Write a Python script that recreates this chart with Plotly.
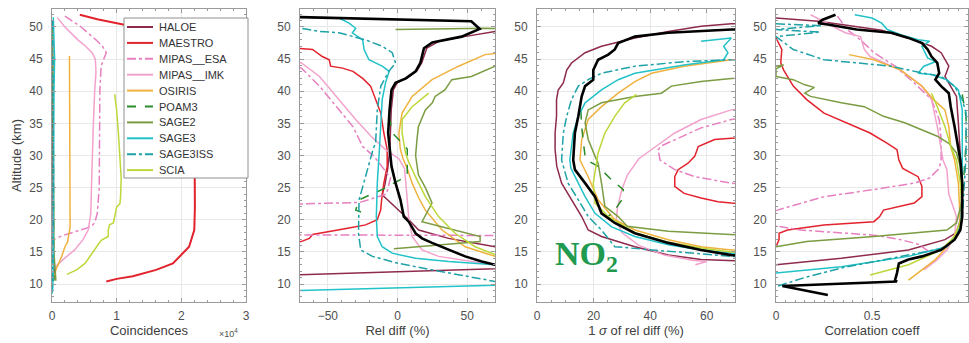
import plotly.graph_objects as go

# ---------------- series meta ----------------
SERIES = ["HALOE", "MAESTRO", "MIPAS__ESA", "MIPAS__IMK", "OSIRIS",
          "POAM3", "SAGE2", "SAGE3", "SAGE3ISS", "SCIA"]
COLORS = {"HALOE": "#8e2a4c", "MAESTRO": "#e2222c", "MIPAS__ESA": "#e680c0",
          "MIPAS__IMK": "#f2a2cc", "OSIRIS": "#efb23e", "POAM3": "#2b8c2b",
          "SAGE2": "#7b9c42", "SAGE3": "#22c2c8", "SAGE3ISS": "#1ea2a8",
          "SCIA": "#bcd83a"}
DASHES = {"MIPAS__ESA": "dashdot", "POAM3": "dash", "SAGE3ISS": "dashdot"}

ALT_TICKS = [10, 15, 20, 25, 30, 35, 40, 45, 50]

# ---------------- panel 1: coincidences (units of 10^4) ----------------
co_HALOE = [(0.005, 50), (0.01, 40), (0.01, 25), (0.02, 15), (0.04, 12), (0.02, 10.5)]
co_MAESTRO = [(0.43, 51.9), (0.7, 51.2), (1.1, 50.4), (1.5, 49.5), (1.9, 47.5), (2.15, 45),
              (2.2, 40), (2.21, 30), (2.21, 27), (2.21, 22), (2.2, 18.4), (2.12, 15.8),
              (1.87, 13.2), (1.61, 12.2), (1.25, 11.2), (1.0, 10.8), (0.84, 10.4)]
co_MIPAS_ESA = [(0.2, 51.7), (0.45, 50), (0.68, 48), (0.78, 47), (0.84, 46), (0.8, 45),
                (0.76, 44), (0.74, 40), (0.74, 30), (0.73, 25), (0.7, 21), (0.66, 19.5),
                (0.6, 18.9), (0.4, 18.3), (0.15, 17.5), (0.05, 17)]
co_MIPAS_IMK = [(0.08, 51.5), (0.2, 50), (0.4, 48), (0.52, 47), (0.62, 46), (0.67, 45),
                (0.68, 43), (0.66, 40), (0.64, 35), (0.63, 30), (0.61, 25), (0.6, 21),
                (0.56, 18.4), (0.48, 16.9), (0.35, 15.3), (0.17, 13.8), (0.08, 13), (0.03, 12.5)]
co_OSIRIS = [(0.27, 45.5), (0.27, 40), (0.27, 30), (0.27, 20), (0.28, 18.9), (0.24, 16.5),
             (0.2, 15.8), (0.15, 14.3), (0.1, 13.2), (0.06, 12.2), (0.03, 11)]
co_POAM3 = [(0.01, 45), (0.02, 40), (0.02, 30), (0.02, 20), (0.02, 13), (0.03, 10.5)]
co_SAGE2 = [(0.01, 50), (0.015, 40), (0.02, 25), (0.03, 15), (0.05, 12), (0.06, 10.5)]
co_SAGE3 = [(0.02, 51.5), (0.04, 45), (0.03, 40), (0.03, 30), (0.03, 20), (0.03, 15),
            (0.02, 12), (0.01, 9), (0.0, 8.5)]
co_SAGE3ISS = [(0.01, 51), (0.02, 40), (0.02, 30), (0.02, 20), (0.01, 10), (0.005, 9)]
co_SCIA = [(0.97, 39.5), (1.0, 37), (1.03, 33), (1.05, 30), (1.07, 26.5), (1.06, 23.5),
           (1.05, 22.5), (1.0, 22), (0.97, 20.5), (0.95, 19.5), (0.89, 19.2), (0.87, 18.4),
           (0.87, 17.4), (0.76, 16.8), (0.69, 15.8), (0.64, 15), (0.58, 14.2), (0.51, 13.2),
           (0.38, 12.2), (0.23, 11.5)]

# ---------------- panel 2: relative difference (%) ----------------
rd_HALOE = [(120, 49.7), (70, 49.3), (48, 48.5), (30, 47.8), (21, 46.7), (17.5, 44.5),
            (14, 43.2), (7, 42.1), (0, 41.4), (-3, 40.2), (-4.5, 37.1), (-5, 34), (-5.5, 31),
            (-7, 28), (-9, 25.5), (-11, 23.9), (1, 21.5), (8.1, 20), (15.2, 18.4),
            (36.7, 17.1), (55, 16.4), (70, 15.8), (150, 12.9), (-150, 10.9)]
rd_MAESTRO = [(-120, 47.5), (-69, 46.7), (-61, 46.5), (-54, 45.4), (-49, 44.9), (-48, 43.9),
              (-39.5, 43.6), (-32, 43.1), (-25, 42), (-19.3, 40.8), (-15.7, 38.7), (-12, 36.6),
              (-9.8, 33.5), (-7.4, 30.9), (-7.4, 28.3), (-9.8, 25.7), (-11.4, 23.1),
              (-12.1, 21.5), (-14.5, 20), (-22.9, 19.2), (-34.8, 18.7), (-46.7, 18.2),
              (-61, 17.7), (-63.3, 17.1), (-69.3, 16.6), (-100, 16.2)]
rd_MIPAS_ESA = [(-120, 47), (-69, 43.6), (-56, 40.8), (-42, 37.1), (-32, 34.5), (-25, 31.4),
                (-16.6, 29.8), (-9.5, 27.8), (-5, 26.5), (-8, 24), (-27, 22.7), (-150, 22),
                (-150, 17.7), (150, 17.5)]
rd_MIPAS_IMK = [(-120, 47), (-69, 44.4), (-56, 42.3), (-42, 38.7), (-30, 35.6), (-19, 33),
                (-9, 31), (1, 29.5), (5, 28), (6, 25.7), (8, 20.5), (10.5, 17.4), (17.6, 15.3),
                (29.5, 14.3), (44, 13.8), (63, 13.2), (100, 13)]
rd_OSIRIS = [(75, 46), (62.9, 45.7), (43.8, 43.9), (24.8, 41.8), (10.5, 39.2), (3.3, 36.6),
             (1, 33.5), (2, 31), (4, 29.5), (7, 28), (10.5, 25.7), (15, 23.5), (20, 21.5),
             (32, 18.4), (48.6, 15.8), (70, 14.3), (90, 13.8)]
rd_POAM3 = [(-6, 36), (-3.6, 33.5), (3, 32), (7, 31), (7, 27), (6, 26.7), (-11, 24.7),
            (-27.6, 23.1), (-30, 21.5), (-20.5, 20.8)]
rd_SAGE2 = [(-1.4, 49.6), (63, 49.8), (120, 49.5), (120, 45), (70, 43.9), (53, 42.3),
            (39, 41.8), (34, 40.2), (27, 39.2), (25, 38.2), (20, 37.1), (15, 34.5),
            (14, 32.5), (13, 30), (15, 27), (20, 25), (24.8, 22.6), (17.6, 19.7),
            (59.3, 17.4), (59.3, 16.6), (-2.6, 15.5)]
rd_SAGE3 = [(-42, 51.4), (-34.8, 50.6), (-30, 49.8), (-32.4, 49.1), (-25, 48), (-24, 46.5),
            (-20.5, 44.9), (-11, 43.9), (-6, 43.1), (-8.6, 41.3), (-11, 38.7), (-12, 33.5),
            (-13, 30.9), (-14.5, 25.7), (-15.2, 20.5), (-14.5, 17.4), (-11, 15.8),
            (-3.8, 14.8), (12.9, 14), (36.7, 13.5), (70, 13), (150, 10.3), (-150, 8.5)]
rd_SAGE3ISS = [(-120, 50.1), (-69, 49.8), (-56, 49.3), (-42, 49.1), (-23, 48), (-11, 47),
               (-3.8, 46), (-1.4, 44.4), (-6.2, 43.1), (-12, 40.8), (-14.5, 37.1),
               (-15.7, 32), (-17.6, 30.9), (-22.9, 26.7), (-27.6, 23.1), (-28, 17.9),
               (-26.4, 15.3), (-18, 14.3), (1, 13.2), (24.8, 12.2), (48.6, 11.2),
               (70, 10.4), (100, 9.5)]
rd_SCIA = [(22.4, 39.7), (10.5, 37.6), (3.3, 35.6), (3.3, 33.5), (5.7, 30.4), (8, 29),
           (12.9, 26.7), (20, 23.6), (29.5, 20.5), (41.4, 17.9), (55.7, 15.8), (70, 14.6),
           (90, 14)]
rd_MEAN = [(-120, 51.8), (53, 50.9), (59, 49.7), (46, 48.5), (25, 47.6), (19, 46.7),
           (16.4, 44.4), (13, 43.1), (6, 42), (-1.4, 41.3), (-4.3, 40.2), (-5.7, 37.1),
           (-6.7, 33.5), (-5.7, 30.9), (-4.3, 28.3), (-1.4, 25.7), (2.1, 23.1), (4.5, 20.5),
           (8.1, 19.7), (12.9, 17.9), (17.6, 17.1), (24.8, 16.4), (36.7, 15.3), (48.6, 14.3),
           (60.5, 13.5), (70, 13), (90, 12.3)]

# ---------------- panel 3: 1 sigma of relative difference (%) ----------------
sd_HALOE = [(90, 50.8), (68.7, 50.5), (58, 50.1), (46.4, 49.3), (34.6, 48.3), (22.8, 47),
            (17, 46), (12.2, 44.4), (10.5, 43.3), (9.3, 41.3), (7.5, 40.2), (6.9, 38.7),
            (6.9, 36.1), (6.4, 33.5), (6.4, 30.9), (7, 28.3), (8.7, 25.7), (12.2, 23.1),
            (15.8, 20.5), (18.1, 18.4), (22.8, 17.4), (34.6, 15.8), (46.4, 14.5), (58, 13.8),
            (68.7, 13.5), (90, 13.3)]
sd_MAESTRO = [(90, 33), (68.7, 32.7), (62.8, 32.5), (57, 31.4), (55.8, 29.9), (53.4, 28.8),
              (49.9, 27.8), (48.7, 26.7), (48.7, 25.2), (52, 24.1), (58, 23.4), (64, 22.8),
              (68.7, 22.6), (90, 22.3)]
sd_MIPAS_ESA = [(90, 37), (68.7, 35.6), (58, 34.3), (48.7, 32.5), (44, 31.5), (42.8, 30.9),
                (43.5, 29.3), (48.7, 27.8), (55.8, 26.7), (68.7, 25.7), (90, 25)]
sd_MIPAS_IMK = [(90, 38.5), (68.7, 37.1), (58, 35.6), (48.7, 33.5), (42, 31.4), (36, 29.5),
                (32, 27), (30, 24.7), (28.5, 22), (28, 20), (30, 18), (36, 16), (45, 14.5),
                (55, 13.7), (60, 13.5), (56, 13)]
sd_OSIRIS = [(80, 45.2), (68.7, 44.9), (52, 43.9), (40.5, 42.8), (34.6, 41.5), (28.7, 39.7),
             (22.8, 37.6), (18.1, 35.6), (15.8, 32.5), (15.2, 29.3), (18.1, 26.7), (21.6, 23.1),
             (27.5, 20), (34.6, 18.4), (46.4, 16.9), (58, 15.8), (68.7, 15.3), (90, 15)]
sd_POAM3 = [(15.5, 37), (15.8, 34.5), (16.4, 32), (17, 29.9), (18, 29.2), (21.6, 28.3),
            (26.4, 26.2), (30.5, 24.7), (30, 23.1), (27.5, 21.5), (25.2, 20.5)]
sd_SAGE2 = [(90, 42.5), (68.7, 42), (58, 41.5), (47.5, 40.8), (44, 39.7), (34.6, 39.2),
            (22.8, 38.2), (18.1, 37.1), (17, 35.1), (18.1, 32.5), (20.5, 29.9), (21.6, 28.8),
            (22.8, 25.7), (24, 22.1), (28.7, 20.5), (31.9, 19), (46.4, 18.2), (68.7, 17.5),
            (90, 17.2)]
sd_SAGE3 = [(58, 47.8), (68.7, 48.3), (66, 47), (67.5, 46), (66, 44.9), (52, 44.1),
            (34.6, 42.8), (28.7, 41.8), (22.8, 40.2), (17, 38.2), (14.6, 36.1), (12.8, 33.5),
            (11.6, 29.3), (12, 28), (14.6, 25.7), (17, 23.6), (20.5, 21), (26.4, 18.9),
            (34.6, 17.4), (46.4, 16.1), (58, 15.3), (68.7, 14.8), (90, 14.5)]
sd_SAGE3ISS = [(90, 45), (68.7, 44.9), (52, 44.6), (34.6, 43.9), (22.8, 42.8), (18.1, 41.8),
               (14.6, 40.8), (12.2, 38.7), (10.5, 36.1), (9.3, 33.5), (8.7, 29.3), (9.3, 28.3),
               (11, 25.7), (14.6, 23.1), (18.1, 20.5), (22.8, 18.4), (27.5, 15.8), (46.4, 15.1),
               (68.7, 14.3), (90, 14)]
sd_SCIA = [(35.2, 39.5), (31, 38.2), (27.5, 36.1), (24, 33.5), (21.6, 30.4), (19.9, 25.7),
           (20.5, 22.6), (25.2, 20.5), (34.6, 18.0), (46.4, 16.5), (58, 15.6), (68.7, 15.0),
           (90, 14.8)]
sd_MEAN = [(90, 49.8), (68.7, 49.6), (46.4, 49.1), (34.6, 48.5), (28.7, 47.5), (27.5, 46.5),
           (25.2, 45.7), (21.6, 44.9), (19.9, 43.3), (19.9, 41.8), (17, 40.8), (15.8, 39.2),
           (14.6, 36.1), (13.4, 33.5), (12.8, 29.3), (13.4, 27.8), (17, 25.7), (20.5, 23.6),
           (22.8, 21), (27.5, 19.5), (34.6, 17.9), (46.4, 16.4), (58, 15.3), (68.7, 14.5),
           (90, 14)]

# ---------------- panel 4: correlation coefficient ----------------
cc_HALOE = [(0, 51.4), (0.22, 50.9), (0.34, 50.4), (0.55, 49.5), (0.72, 48), (0.81, 47),
            (0.86, 46), (0.9, 43.9), (0.88, 42.3), (0.91, 40.8), (0.94, 39.2), (0.95, 35),
            (0.96, 30), (0.97, 25), (0.96, 20), (0.94, 18), (0.88, 16.9), (0.69, 15.3),
            (0.34, 14), (0, 13)]
cc_MAESTRO = [(0, 48.3), (0.03, 46.5), (0.025, 44.4), (0.04, 43.3), (0.09, 40.8), (0.16, 38.7),
              (0.25, 36.6), (0.37, 35.1), (0.49, 33.5), (0.58, 31.9), (0.63, 30.9), (0.64, 29.3),
              (0.66, 28), (0.74, 26.7), (0.76, 25.2), (0.76, 23.6), (0.72, 22.6), (0.56, 21.5),
              (0.54, 20.5), (0.51, 19.7), (0.25, 19.2), (0.06, 18.4), (0.016, 17.9),
              (0.016, 16.9), (0, 15.8)]
cc_MIPAS_ESA = [(0.32, 51.7), (0.37, 49.6), (0.44, 48), (0.51, 46), (0.62, 43.9), (0.72, 41.3),
                (0.81, 38.7), (0.85, 35.6), (0.86, 32.5), (0.86, 29.3), (0.85, 28), (0.8, 26.5),
                (0.72, 25.7), (0.51, 24.7), (0.25, 23.6), (0.16, 22.8), (0.007, 21.5),
                (-0.2, 20), (0.13, 18.4), (0.51, 17.6), (0.65, 16.9), (0.74, 16.2), (0.8, 15)]
cc_MIPAS_IMK = [(0.18, 51.9), (0.3, 50.1), (0.36, 49.1), (0.44, 48.5), (0.46, 46.5),
                (0.49, 45.4), (0.65, 43.3), (0.76, 40.8), (0.81, 38.7), (0.84, 34.5),
                (0.87, 29.3), (0.89, 27.8), (0.9, 24), (0.94, 20.5), (0.93, 17.4), (0.89, 15.3),
                (0.84, 13.8), (0.77, 12.2)]
cc_OSIRIS = [(0.38, 45.7), (0.51, 44.9), (0.65, 43.3), (0.76, 40.8), (0.82, 38.7), (0.88, 37.1),
             (0.9, 34.5), (0.91, 31.4), (0.93, 29.3), (0.95, 25.7), (0.96, 19.5), (0.91, 16.4),
             (0.83, 13.8), (0.74, 11.7), (0.69, 10.6)]
cc_POAM3 = [(0.97, 39.5), (0.99, 36), (0.99, 32), (0.98, 27), (0.97, 23), (0.95, 20)]
cc_SAGE2 = [(0, 43.9), (0.04, 44.1), (0.0, 43.5), (0, 42.3), (0.09, 41.8), (0.15, 41),
            (0.2, 40.6), (0.15, 39.7), (0.18, 39.2), (0.34, 38.2), (0.46, 37.6), (0.56, 36.1),
            (0.67, 35.1), (0.76, 34), (0.84, 33), (0.9, 31.9), (0.94, 30.4), (0.96, 28.3),
            (0.97, 23.1), (0.94, 19.5), (0.89, 18.4), (0.51, 17.4), (0.16, 16.6), (0, 15.8)]
cc_SAGE3 = [(0.41, 51.9), (0.5, 51.4), (0.55, 50.6), (0.58, 49.6), (0.65, 48.8), (0.74, 48),
            (0.8, 47.8), (0.76, 47), (0.79, 45.2), (0.83, 44.6), (0.77, 43.9), (0.74, 42.8),
            (0.81, 42.6), (0.89, 41.8), (0.95, 40.2), (0.97, 37.1), (0.97, 30), (0.97, 23.1),
            (0.96, 18.5), (0.89, 15.8), (0.69, 14.3), (0.34, 12.7), (0, 11.7)]
cc_SAGE3ISS = [(0.0, 50.5), (0.24, 50.2), (0.0, 49.6), (0.23, 49.2), (0, 48.5), (0.09, 46.5),
               (0.25, 44.9), (0.42, 44.4), (0.6, 43.9), (0.72, 43.1), (0.86, 42.3), (0.93, 40.8),
               (0.97, 38.7), (0.99, 36.6), (0.99, 30), (0.98, 25), (0.97, 20), (0.93, 17),
               (0.86, 15.5), (0.6, 14), (0.34, 12.5), (0.15, 11), (0, 9.6)]
cc_SCIA = [(0.81, 39.7), (0.84, 37.6), (0.88, 34.5), (0.91, 31.4), (0.94, 29.3), (0.96, 25.7),
           (0.97, 20.5), (0.93, 17.4), (0.86, 15.3), (0.69, 13), (0.49, 11.4)]
cc_MEAN = [(0.31, 51.9), (0.24, 51.1), (0.22, 50.6), (0.27, 50.4), (0.42, 49.6), (0.6, 49.1),
           (0.69, 48.3), (0.76, 47.5), (0.79, 46.5), (0.81, 45.4), (0.84, 44.4), (0.85, 42.8),
           (0.83, 41.8), (0.86, 40.8), (0.9, 39.7), (0.91, 37.6), (0.93, 34.5), (0.95, 31.4),
           (0.96, 29.3), (0.97, 25.7), (0.97, 20.5), (0.96, 18.4), (0.93, 16.9), (0.86, 15.3),
           (0.76, 14.3), (0.69, 13.8), (0.64, 13.2), (0.63, 11.7), (0.62, 10.6), (0.63, 10.4),
           (0.033, 9.7), (0.27, 8.3)]

panel_data = [
    [co_HALOE, co_MAESTRO, co_MIPAS_ESA, co_MIPAS_IMK, co_OSIRIS, co_POAM3, co_SAGE2,
     co_SAGE3, co_SAGE3ISS, co_SCIA],
    [rd_HALOE, rd_MAESTRO, rd_MIPAS_ESA, rd_MIPAS_IMK, rd_OSIRIS, rd_POAM3, rd_SAGE2,
     rd_SAGE3, rd_SAGE3ISS, rd_SCIA],
    [sd_HALOE, sd_MAESTRO, sd_MIPAS_ESA, sd_MIPAS_IMK, sd_OSIRIS, sd_POAM3, sd_SAGE2,
     sd_SAGE3, sd_SAGE3ISS, sd_SCIA],
    [cc_HALOE, cc_MAESTRO, cc_MIPAS_ESA, cc_MIPAS_IMK, cc_OSIRIS, cc_POAM3, cc_SAGE2,
     cc_SAGE3, cc_SAGE3ISS, cc_SCIA],
]
mean_data = [None, rd_MEAN, sd_MEAN, cc_MEAN]

W, H = 969, 343
X_DOMAINS = [(52, 246), (300, 495), (537, 735), (776, 968)]
Y_TOP, Y_BOT = 9, 302
X_RANGES = [[0, 3], [-70, 70], [0, 70], [0, 1]]
X_TICKS = [[0, 1, 2, 3], [-50, 0, 50], [0, 20, 40, 60], [0, 0.5, 1]]
X_TITLES = ["Coincidences", "Rel diff (%)", "1 <i>σ</i> of rel diff (%)", "Correlation coeff"]

fig = go.Figure()
for p in range(4):
    xa = "x" if p == 0 else f"x{p+1}"
    ya = "y" if p == 0 else f"y{p+1}"
    for name, pts in zip(SERIES, panel_data[p]):
        lw = 2 if (p == 0 and name == "MAESTRO") else 1.5
        fig.add_trace(go.Scatter(
            x=[v for v, a in pts], y=[a for v, a in pts], mode="lines", name=name,
            showlegend=False, xaxis=xa, yaxis=ya,
            line=dict(color=COLORS[name], width=lw, dash=DASHES.get(name, "solid"))))
    if mean_data[p] is not None:
        pts = mean_data[p]
        fig.add_trace(go.Scatter(
            x=[v for v, a in pts], y=[a for v, a in pts], mode="lines", name="mean",
            showlegend=False, xaxis=xa, yaxis=ya, line=dict(color="black", width=2.6)))

AX_COLOR = "#9a9a9a"
FONT = "Liberation Sans, Arial, sans-serif"
TICK_FONT = dict(family=FONT, size=12, color="#505050")
TITLE_FONT = dict(family=FONT, size=13, color="#404040")

layout = {}
for p in range(4):
    xk = "xaxis" if p == 0 else f"xaxis{p+1}"
    yk = "yaxis" if p == 0 else f"yaxis{p+1}"
    x0, x1 = X_DOMAINS[p]
    layout[xk] = dict(
        domain=[x0 / W, x1 / W], range=X_RANGES[p], tickvals=X_TICKS[p],
        anchor="y" if p == 0 else f"y{p+1}", showline=True, mirror="allticks",
        linecolor=AX_COLOR, linewidth=1, ticks="inside", ticklen=4, tickcolor=AX_COLOR,
        showgrid=True, gridcolor="#e8e8e8", gridwidth=1, zeroline=False,
        tickfont=TICK_FONT, ticklabelstandoff=3, automargin=False,
        minor=dict(ticks="inside", ticklen=2, tickcolor=AX_COLOR, showgrid=False),
        title=dict(text=X_TITLES[p], font=TITLE_FONT, standoff=3))
    ydict = dict(
        domain=[1 - Y_BOT / H, 1 - Y_TOP / H], range=[7.2, 52.8], tickvals=ALT_TICKS,
        anchor="x" if p == 0 else f"x{p+1}", showline=True, mirror="allticks",
        linecolor=AX_COLOR, linewidth=1, ticks="inside", ticklen=4, tickcolor=AX_COLOR,
        showgrid=True, gridcolor="#e8e8e8", gridwidth=1, zeroline=False,
        tickfont=TICK_FONT, ticklabelstandoff=6, automargin=False,
        minor=dict(ticks="inside", ticklen=2, tickcolor=AX_COLOR, showgrid=False, dtick=1))
    if p == 0:
        ydict["title"] = dict(text="Altitude (km)", font=TITLE_FONT, standoff=4)
    layout[yk] = ydict

# ---- legend drawn in pixel space (box inside panel 1) ----
LEG_LEFT, LEG_RIGHT, LEG_TOP, LEG_BOT = 124, 248, 18, 178
LEG_ROW0, LEG_STEP = 27, 15.9
shapes = [dict(type="rect", xref="paper", yref="paper", layer="above",
               x0=LEG_LEFT / W, x1=LEG_RIGHT / W, y0=1 - LEG_BOT / H, y1=1 - LEG_TOP / H,
               fillcolor="white", line=dict(color="#909090", width=1))]
annotations = []
for i, name in enumerate(SERIES):
    yy = 1 - (LEG_ROW0 + i * LEG_STEP) / H
    shapes.append(dict(type="line", xref="paper", yref="paper", layer="above",
                       x0=127 / W, x1=153 / W, y0=yy, y1=yy,
                       line=dict(color=COLORS[name], width=2,
                                 dash=DASHES.get(name, "solid"))))
    annotations.append(dict(text=name, x=157 / W, y=yy, xref="paper", yref="paper",
                            xanchor="left", yanchor="middle", showarrow=False,
                            font=dict(family=FONT, size=11, color="#333333")))

annotations += [
    dict(text="×10<sup>4</sup>", x=240 / W, y=1 - 325 / H, xref="paper", yref="paper",
         xanchor="right", yanchor="top", showarrow=False,
         font=dict(family=FONT, size=9, color="#505050")),
    dict(text="NO<sub>2</sub>", x=586 / W, y=1 - 279 / H, xref="paper", yref="paper",
         showarrow=False,
         font=dict(family="Liberation Serif, Times New Roman, serif", size=34,
                   color="#1f9a4f", weight="bold")),
]

fig.update_layout(
    width=W, height=H, margin=dict(l=0, r=0, t=0, b=0),
    paper_bgcolor="white", plot_bgcolor="white", showlegend=False,
    shapes=shapes, annotations=annotations,
    **layout,
)

fig.write_html("out.html")
